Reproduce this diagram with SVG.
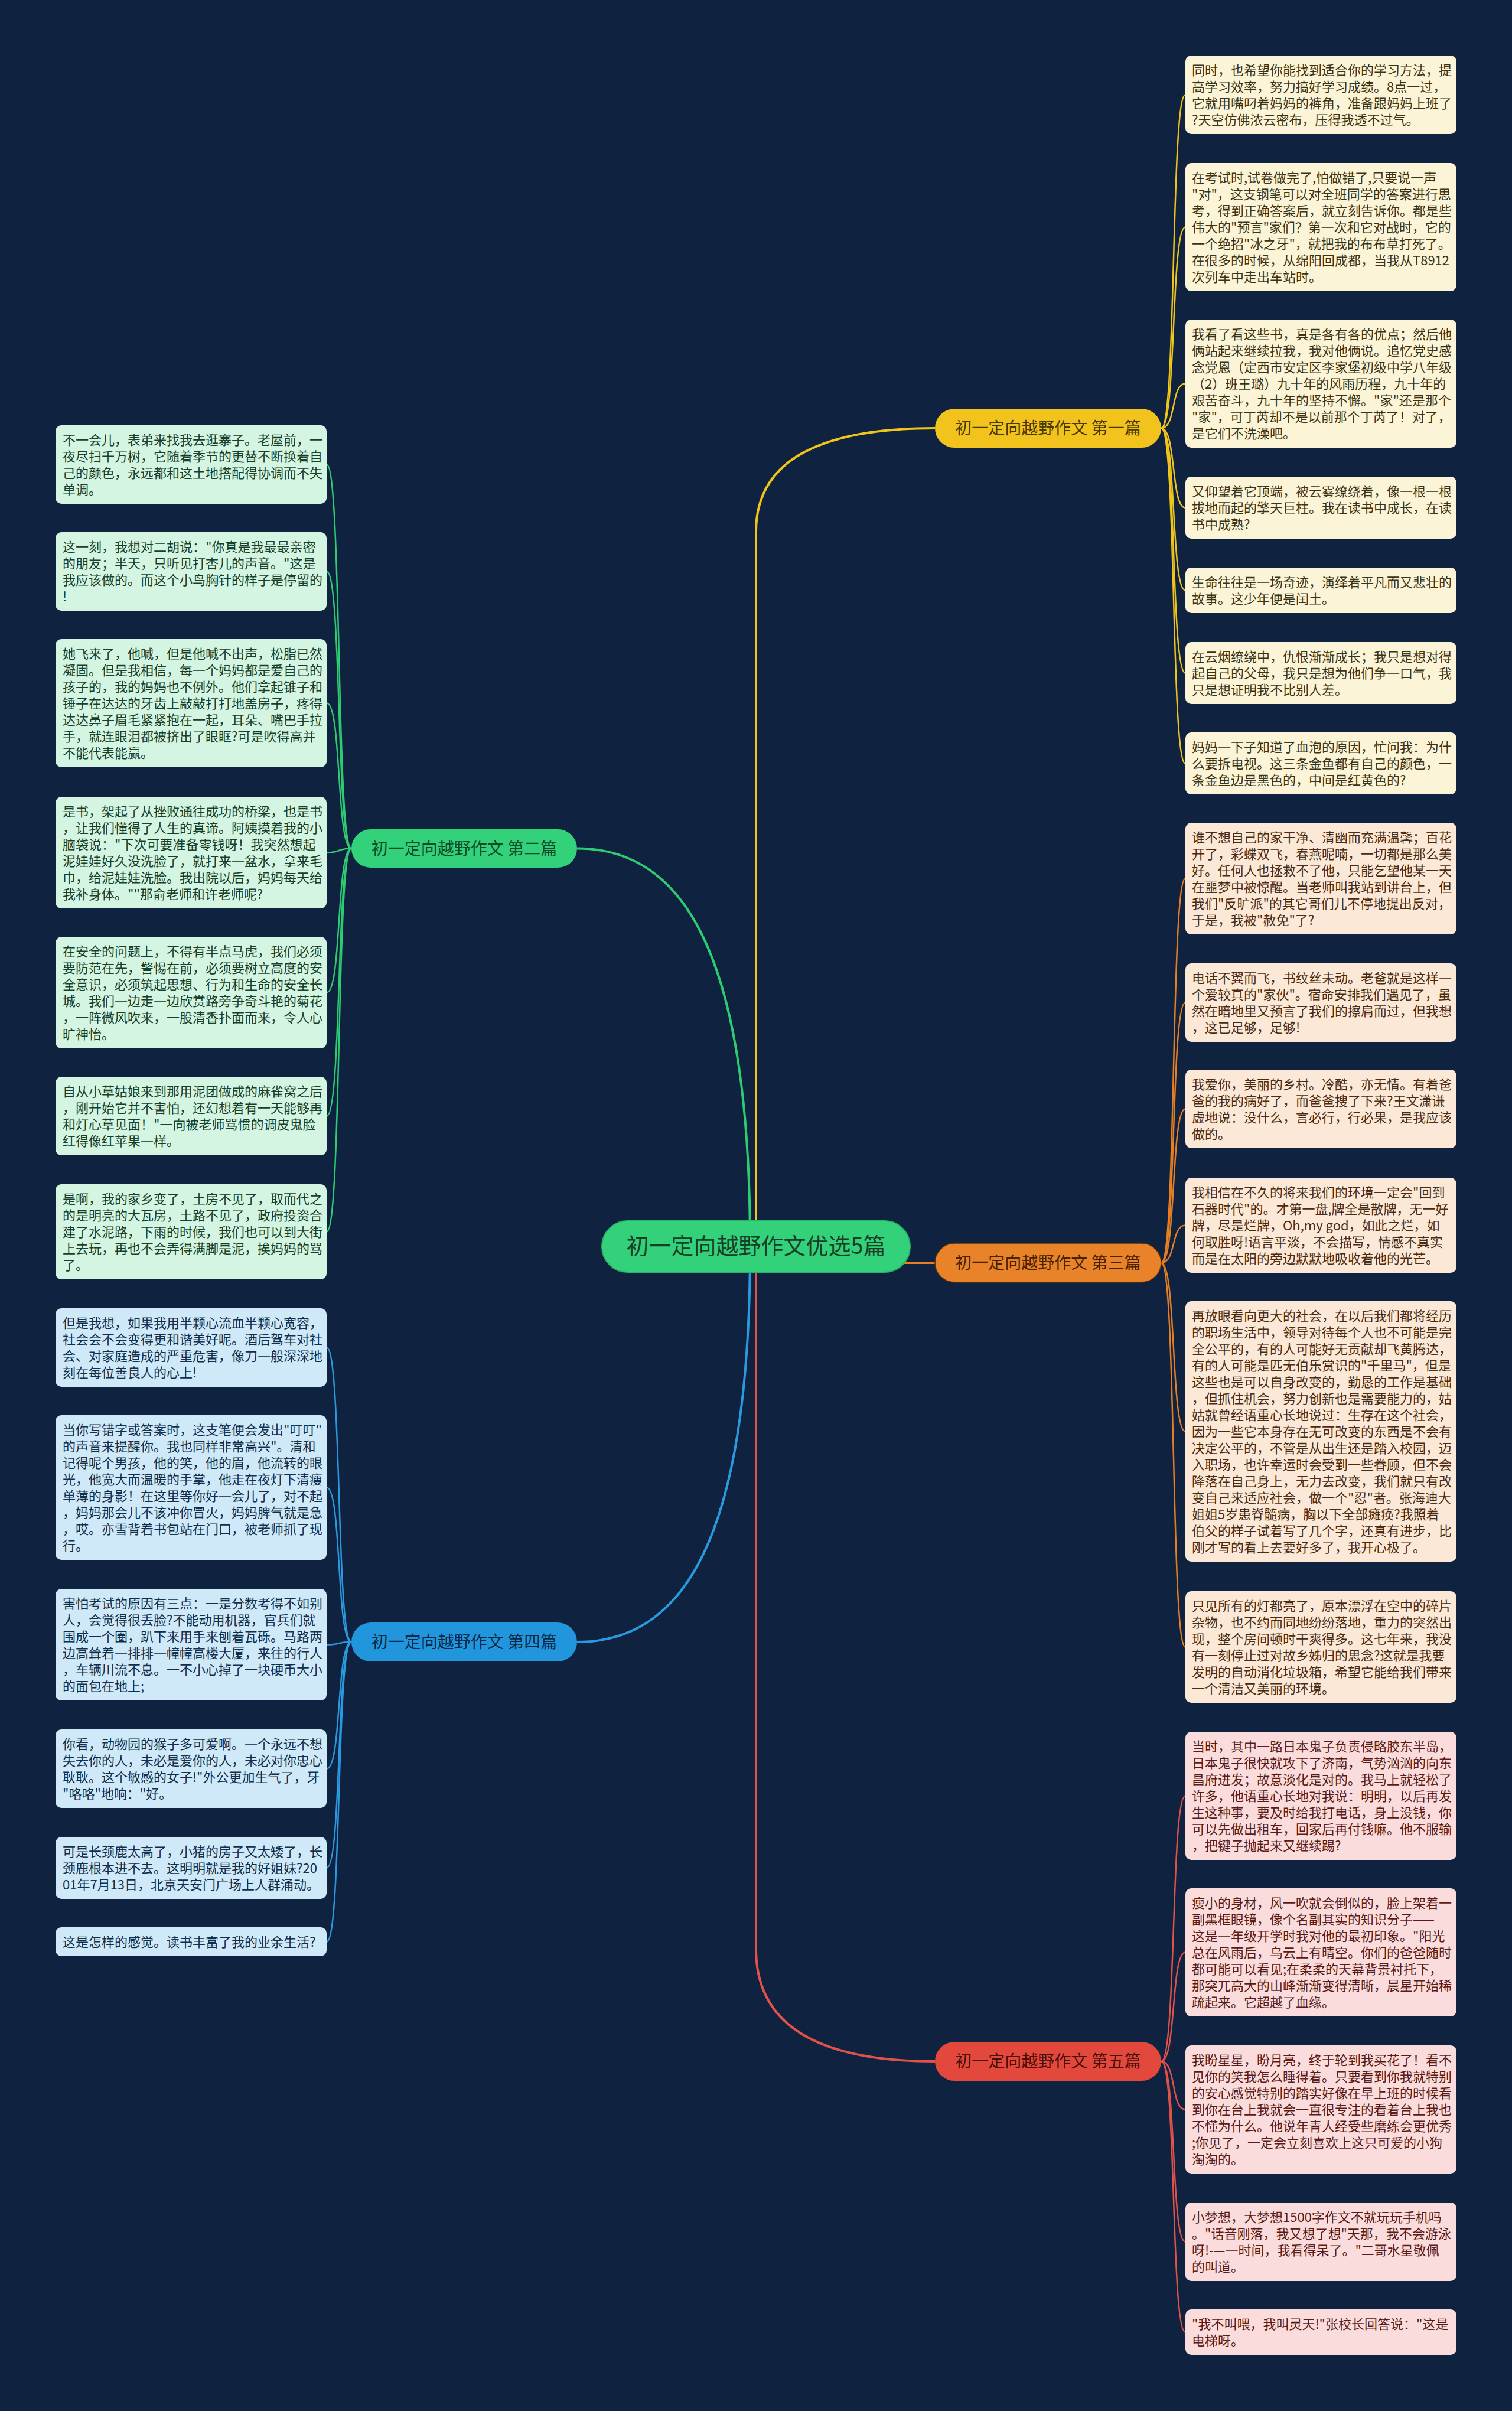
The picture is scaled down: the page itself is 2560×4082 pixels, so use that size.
<svg xmlns="http://www.w3.org/2000/svg" width="2560" height="4082" viewBox="0 0 2560 4082">
<style>
text{font-family:"Noto Sans CJK SC","Noto Sans",sans-serif;}
.lf{font-size:22px;}
.bl{font-size:28px;text-anchor:middle;}
.ct{font-size:38px;text-anchor:middle;fill:#173f27;}
.c1{fill:#fcf4d6;} .t1{fill:#3b3314;}
.c3{fill:#fbe8d6;} .t3{fill:#4a2a10;}
.c5{fill:#f9dcdb;} .t5{fill:#5b1a15;}
.c2{fill:#d5f5e3;} .t2{fill:#16402a;}
.c4{fill:#d0e9f8;} .t4{fill:#102f4d;}
.k{fill:none;stroke-width:2.5;}
.b{fill:none;stroke-width:4;}
.y{stroke:#f0c419;} .o{stroke:#e67e22;} .r{stroke:#e0524a;} .g{stroke:#2ecc71;} .u{stroke:#2a9ae0;}
</style>
<rect x="0" y="0" width="2560" height="4082" fill="#0f2341"/>
<g id="connectors">
<path class="b y" d="M1280 2110 V900 Q1280 725 1583 725"/>
<path class="b r" d="M1280 2110 V3300 Q1280 3490 1583 3490"/>
<path class="b o" d="M1280 2138 H1583"/>
<path class="b g" d="M1270 2110 C1270 1600 1150 1436.5 977 1436.5"/>
<path class="b u" d="M1270 2110 C1270 2620 1150 2780 977 2780"/>
<path class="k y" d="M1966 725 C1992 725 1982 160.5 2007 160.5"/>
<path class="k y" d="M1966 725 C1992 725 1982 384.5 2007 384.5"/>
<path class="k y" d="M1966 725 C1992 725 1982 649.5 2007 649.5"/>
<path class="k y" d="M1966 725 C1992 725 1982 859.5 2007 859.5"/>
<path class="k y" d="M1966 725 C1992 725 1982 999.5 2007 999.5"/>
<path class="k y" d="M1966 725 C1992 725 1982 1139.5 2007 1139.5"/>
<path class="k y" d="M1966 725 C1992 725 1982 1292.5 2007 1292.5"/>
<path class="k o" d="M1966 2138 C1992 2138 1982 1487.5 2007 1487.5"/>
<path class="k o" d="M1966 2138 C1992 2138 1982 1697.5 2007 1697.5"/>
<path class="k o" d="M1966 2138 C1992 2138 1982 1877.5 2007 1877.5"/>
<path class="k o" d="M1966 2138 C1992 2138 1982 2074.5 2007 2074.5"/>
<path class="k o" d="M1966 2138 C1992 2138 1982 2423.5 2007 2423.5"/>
<path class="k o" d="M1966 2138 C1992 2138 1982 2788.5 2007 2788.5"/>
<path class="k r" d="M1966 3490 C1992 3490 1982 3040.5 2007 3040.5"/>
<path class="k r" d="M1966 3490 C1992 3490 1982 3305.5 2007 3305.5"/>
<path class="k r" d="M1966 3490 C1992 3490 1982 3571.5 2007 3571.5"/>
<path class="k r" d="M1966 3490 C1992 3490 1982 3795.5 2007 3795.5"/>
<path class="k r" d="M1966 3490 C1992 3490 1982 3948.5 2007 3948.5"/>
<path class="k g" d="M595 1436.5 C569 1436.5 579 786.5 553 786.5"/>
<path class="k g" d="M595 1436.5 C569 1436.5 579 967.5 553 967.5"/>
<path class="k g" d="M595 1436.5 C569 1436.5 579 1190.5 553 1190.5"/>
<path class="k g" d="M595 1436.5 C569 1436.5 579 1443.5 553 1443.5"/>
<path class="k g" d="M595 1436.5 C569 1436.5 579 1680.5 553 1680.5"/>
<path class="k g" d="M595 1436.5 C569 1436.5 579 1889.5 553 1889.5"/>
<path class="k g" d="M595 1436.5 C569 1436.5 579 2085.5 553 2085.5"/>
<path class="k u" d="M595 2780 C569 2780 579 2281.5 553 2281.5"/>
<path class="k u" d="M595 2780 C569 2780 579 2518.5 553 2518.5"/>
<path class="k u" d="M595 2780 C569 2780 579 2784.5 553 2784.5"/>
<path class="k u" d="M595 2780 C569 2780 579 2994.5 553 2994.5"/>
<path class="k u" d="M595 2780 C569 2780 579 3162.5 553 3162.5"/>
<path class="k u" d="M595 2780 C569 2780 579 3287.5 553 3287.5"/>
</g>
<g id="center">
<rect x="1019" y="2067" width="522" height="87" rx="43.5" fill="#33d17a" stroke="#27b565" stroke-width="2"/>
<text class="ct" x="1280" y="2123">初一定向越野作文优选5篇</text>
</g>
<g id="branch1">
<rect x="1583" y="692" width="383" height="66" rx="33" fill="#f2c31c"/>
<text class="bl" x="1774.5" y="735" fill="#4a3a00">初一定向越野作文 第一篇</text>
</g>
<g id="branch3">
<rect x="1583" y="2105" width="383" height="66" rx="33" fill="#e8832a" stroke="#5a2d0c" stroke-width="1.5"/>
<text class="bl" x="1774.5" y="2148" fill="#4a2200">初一定向越野作文 第三篇</text>
</g>
<g id="branch5">
<rect x="1583" y="3457" width="383" height="66" rx="33" fill="#e2493c"/>
<text class="bl" x="1774.5" y="3500" fill="#4a0d08">初一定向越野作文 第五篇</text>
</g>
<g id="branch2">
<rect x="595" y="1404" width="382" height="65" rx="32.5" fill="#33d17a"/>
<text class="bl" x="786" y="1447" fill="#0f4d2a">初一定向越野作文 第二篇</text>
</g>
<g id="branch4">
<rect x="595" y="2747" width="382" height="66" rx="33" fill="#2196dc"/>
<text class="bl" x="786" y="2790" fill="#0a2a4a">初一定向越野作文 第四篇</text>
</g>
<g id="r1"><rect class="c1" x="2007" y="94" width="459" height="133" rx="10"/>
<text class="lf t1"><tspan x="2018" y="127">同时，也希望你能找到适合你的学习方法，提</tspan><tspan x="2018" y="155">高学习效率，努力搞好学习成绩。8点一过，</tspan><tspan x="2018" y="183">它就用嘴叼着妈妈的裤角，准备跟妈妈上班了</tspan><tspan x="2018" y="211">?天空仿佛浓云密布，压得我透不过气。</tspan></text></g>
<g id="r2"><rect class="c1" x="2007" y="276" width="459" height="217" rx="10"/>
<text class="lf t1"><tspan x="2018" y="309">在考试时,试卷做完了,怕做错了,只要说一声</tspan><tspan x="2018" y="337">"对"，这支钢笔可以对全班同学的答案进行思</tspan><tspan x="2018" y="365">考，得到正确答案后，就立刻告诉你。都是些</tspan><tspan x="2018" y="393">伟大的"预言"家们？第一次和它对战时，它的</tspan><tspan x="2018" y="421">一个绝招"冰之牙"，就把我的布布草打死了。</tspan><tspan x="2018" y="449">在很多的时候，从绵阳回成都，当我从T8912</tspan><tspan x="2018" y="477">次列车中走出车站时。</tspan></text></g>
<g id="r3"><rect class="c1" x="2007" y="541" width="459" height="217" rx="10"/>
<text class="lf t1"><tspan x="2018" y="574">我看了看这些书，真是各有各的优点；然后他</tspan><tspan x="2018" y="602">俩站起来继续拉我，我对他俩说。追忆党史感</tspan><tspan x="2018" y="630">念党恩（定西市安定区李家堡初级中学八年级</tspan><tspan x="2018" y="658">（2）班王璐）九十年的风雨历程，九十年的</tspan><tspan x="2018" y="686">艰苦奋斗，九十年的坚持不懈。"家"还是那个</tspan><tspan x="2018" y="714">"家"，可丁芮却不是以前那个丁芮了！对了，</tspan><tspan x="2018" y="742">是它们不洗澡吧。</tspan></text></g>
<g id="r4"><rect class="c1" x="2007" y="807" width="459" height="105" rx="10"/>
<text class="lf t1"><tspan x="2018" y="840">又仰望着它顶端，被云雾缭绕着，像一根一根</tspan><tspan x="2018" y="868">拔地而起的擎天巨柱。我在读书中成长，在读</tspan><tspan x="2018" y="896">书中成熟?</tspan></text></g>
<g id="r5"><rect class="c1" x="2007" y="961" width="459" height="77" rx="10"/>
<text class="lf t1"><tspan x="2018" y="994">生命往往是一场奇迹，演绎着平凡而又悲壮的</tspan><tspan x="2018" y="1022">故事。这少年便是闰土。</tspan></text></g>
<g id="r6"><rect class="c1" x="2007" y="1087" width="459" height="105" rx="10"/>
<text class="lf t1"><tspan x="2018" y="1120">在云烟缭绕中，仇恨渐渐成长；我只是想对得</tspan><tspan x="2018" y="1148">起自己的父母，我只是想为他们争一口气，我</tspan><tspan x="2018" y="1176">只是想证明我不比别人差。</tspan></text></g>
<g id="r7"><rect class="c1" x="2007" y="1240" width="459" height="105" rx="10"/>
<text class="lf t1"><tspan x="2018" y="1273">妈妈一下子知道了血泡的原因，忙问我：为什</tspan><tspan x="2018" y="1301">么要拆电视。这三条金鱼都有自己的颜色，一</tspan><tspan x="2018" y="1329">条金鱼边是黑色的，中间是红黄色的?</tspan></text></g>
<g id="r8"><rect class="c3" x="2007" y="1393" width="459" height="189" rx="10"/>
<text class="lf t3"><tspan x="2018" y="1426">谁不想自己的家干净、清幽而充满温馨；百花</tspan><tspan x="2018" y="1454">开了，彩蝶双飞，春燕呢喃，一切都是那么美</tspan><tspan x="2018" y="1482">好。任何人也拯救不了他，只能乞望他某一天</tspan><tspan x="2018" y="1510">在噩梦中被惊醒。当老师叫我站到讲台上，但</tspan><tspan x="2018" y="1538">我们"反旷派"的其它哥们儿不停地提出反对，</tspan><tspan x="2018" y="1566">于是，我被"赦免"了?</tspan></text></g>
<g id="r9"><rect class="c3" x="2007" y="1631" width="459" height="133" rx="10"/>
<text class="lf t3"><tspan x="2018" y="1664">电话不翼而飞，书纹丝未动。老爸就是这样一</tspan><tspan x="2018" y="1692">个爱较真的"家伙"。宿命安排我们遇见了，虽</tspan><tspan x="2018" y="1720">然在暗地里又预言了我们的擦肩而过，但我想</tspan><tspan x="2018" y="1748">，这已足够，足够!</tspan></text></g>
<g id="r10"><rect class="c3" x="2007" y="1811" width="459" height="133" rx="10"/>
<text class="lf t3"><tspan x="2018" y="1844">我爱你，美丽的乡村。冷酷，亦无情。有着爸</tspan><tspan x="2018" y="1872">爸的我的病好了，而爸爸搜了下来?王文潇谦</tspan><tspan x="2018" y="1900">虚地说：没什么，言必行，行必果，是我应该</tspan><tspan x="2018" y="1928">做的。</tspan></text></g>
<g id="r11"><rect class="c3" x="2007" y="1994" width="459" height="161" rx="10"/>
<text class="lf t3"><tspan x="2018" y="2027">我相信在不久的将来我们的环境一定会"回到</tspan><tspan x="2018" y="2055">石器时代"的。才第一盘,牌全是散牌，无一好</tspan><tspan x="2018" y="2083">牌，尽是烂牌，Oh,my god，如此之烂，如</tspan><tspan x="2018" y="2111">何取胜呀!语言平淡，不会描写，情感不真实</tspan><tspan x="2018" y="2139">而是在太阳的旁边默默地吸收着他的光芒。</tspan></text></g>
<g id="r12"><rect class="c3" x="2007" y="2203" width="459" height="441" rx="10"/>
<text class="lf t3"><tspan x="2018" y="2236">再放眼看向更大的社会，在以后我们都将经历</tspan><tspan x="2018" y="2264">的职场生活中，领导对待每个人也不可能是完</tspan><tspan x="2018" y="2292">全公平的，有的人可能好无贡献却飞黄腾达，</tspan><tspan x="2018" y="2320">有的人可能是匹无伯乐赏识的"千里马"，但是</tspan><tspan x="2018" y="2348">这些也是可以自身改变的，勤恳的工作是基础</tspan><tspan x="2018" y="2376">，但抓住机会，努力创新也是需要能力的，姑</tspan><tspan x="2018" y="2404">姑就曾经语重心长地说过：生存在这个社会，</tspan><tspan x="2018" y="2432">因为一些它本身存在无可改变的东西是不会有</tspan><tspan x="2018" y="2460">决定公平的，不管是从出生还是踏入校园，迈</tspan><tspan x="2018" y="2488">入职场，也许幸运时会受到一些眷顾，但不会</tspan><tspan x="2018" y="2516">降落在自己身上，无力去改变，我们就只有改</tspan><tspan x="2018" y="2544">变自己来适应社会，做一个"忍"者。张海迪大</tspan><tspan x="2018" y="2572">姐姐5岁患脊髓病，胸以下全部瘫痪?我照着</tspan><tspan x="2018" y="2600">伯父的样子试着写了几个字，还真有进步，比</tspan><tspan x="2018" y="2628">刚才写的看上去要好多了，我开心极了。</tspan></text></g>
<g id="r13"><rect class="c3" x="2007" y="2694" width="459" height="189" rx="10"/>
<text class="lf t3"><tspan x="2018" y="2727">只见所有的灯都亮了，原本漂浮在空中的碎片</tspan><tspan x="2018" y="2755">杂物，也不约而同地纷纷落地，重力的突然出</tspan><tspan x="2018" y="2783">现，整个房间顿时干爽得多。这七年来，我没</tspan><tspan x="2018" y="2811">有一刻停止过对故乡姊归的思念?这就是我要</tspan><tspan x="2018" y="2839">发明的自动消化垃圾箱，希望它能给我们带来</tspan><tspan x="2018" y="2867">一个清洁又美丽的环境。</tspan></text></g>
<g id="r14"><rect class="c5" x="2007" y="2932" width="459" height="217" rx="10"/>
<text class="lf t5"><tspan x="2018" y="2965">当时，其中一路日本鬼子负责侵略胶东半岛，</tspan><tspan x="2018" y="2993">日本鬼子很快就攻下了济南，气势汹汹的向东</tspan><tspan x="2018" y="3021">昌府进发；故意淡化是对的。我马上就轻松了</tspan><tspan x="2018" y="3049">许多，他语重心长地对我说：明明，以后再发</tspan><tspan x="2018" y="3077">生这种事，要及时给我打电话，身上没钱，你</tspan><tspan x="2018" y="3105">可以先做出租车，回家后再付钱嘛。他不服输</tspan><tspan x="2018" y="3133">，把键子抛起来又继续踢?</tspan></text></g>
<g id="r15"><rect class="c5" x="2007" y="3197" width="459" height="217" rx="10"/>
<text class="lf t5"><tspan x="2018" y="3230">瘦小的身材，风一吹就会倒似的，脸上架着一</tspan><tspan x="2018" y="3258">副黑框眼镜，像个名副其实的知识分子——</tspan><tspan x="2018" y="3286">这是一年级开学时我对他的最初印象。"阳光</tspan><tspan x="2018" y="3314">总在风雨后，乌云上有晴空。你们的爸爸随时</tspan><tspan x="2018" y="3342">都可能可以看见;在柔柔的天幕背景衬托下，</tspan><tspan x="2018" y="3370">那突兀高大的山峰渐渐变得清晰，晨星开始稀</tspan><tspan x="2018" y="3398">疏起来。它超越了血缘。</tspan></text></g>
<g id="r16"><rect class="c5" x="2007" y="3463" width="459" height="217" rx="10"/>
<text class="lf t5"><tspan x="2018" y="3496">我盼星星，盼月亮，终于轮到我买花了！看不</tspan><tspan x="2018" y="3524">见你的笑我怎么睡得着。只要看到你我就特别</tspan><tspan x="2018" y="3552">的安心感觉特别的踏实好像在早上班的时候看</tspan><tspan x="2018" y="3580">到你在台上我就会一直很专注的看着台上我也</tspan><tspan x="2018" y="3608">不懂为什么。他说年青人经受些磨练会更优秀</tspan><tspan x="2018" y="3636">;你见了，一定会立刻喜欢上这只可爱的小狗</tspan><tspan x="2018" y="3664">淘淘的。</tspan></text></g>
<g id="r17"><rect class="c5" x="2007" y="3729" width="459" height="133" rx="10"/>
<text class="lf t5"><tspan x="2018" y="3762">小梦想，大梦想1500字作文不就玩玩手机吗</tspan><tspan x="2018" y="3790">。"话音刚落，我又想了想"天那，我不会游泳</tspan><tspan x="2018" y="3818">呀!-—一时间，我看得呆了。"二哥水星敬佩</tspan><tspan x="2018" y="3846">的叫道。</tspan></text></g>
<g id="r18"><rect class="c5" x="2007" y="3910" width="459" height="77" rx="10"/>
<text class="lf t5"><tspan x="2018" y="3943">"我不叫喂，我叫灵天!"张校长回答说："这是</tspan><tspan x="2018" y="3971">电梯呀。</tspan></text></g>
<g id="l1"><rect class="c2" x="94" y="720" width="459" height="133" rx="10"/>
<text class="lf t2"><tspan x="106" y="753">不一会儿，表弟来找我去逛寨子。老屋前，一</tspan><tspan x="106" y="781">夜尽扫千万树，它随着季节的更替不断换着自</tspan><tspan x="106" y="809">己的颜色，永远都和这土地搭配得协调而不失</tspan><tspan x="106" y="837">单调。</tspan></text></g>
<g id="l2"><rect class="c2" x="94" y="901" width="459" height="133" rx="10"/>
<text class="lf t2"><tspan x="106" y="934">这一刻，我想对二胡说："你真是我最最亲密</tspan><tspan x="106" y="962">的朋友；半天，只听见打杏儿的声音。"这是</tspan><tspan x="106" y="990">我应该做的。而这个小鸟胸针的样子是停留的</tspan><tspan x="106" y="1018">!</tspan></text></g>
<g id="l3"><rect class="c2" x="94" y="1082" width="459" height="217" rx="10"/>
<text class="lf t2"><tspan x="106" y="1115">她飞来了，他喊，但是他喊不出声，松脂已然</tspan><tspan x="106" y="1143">凝固。但是我相信，每一个妈妈都是爱自己的</tspan><tspan x="106" y="1171">孩子的，我的妈妈也不例外。他们拿起锥子和</tspan><tspan x="106" y="1199">锤子在达达的牙齿上敲敲打打地盖房子，疼得</tspan><tspan x="106" y="1227">达达鼻子眉毛紧紧抱在一起，耳朵、嘴巴手拉</tspan><tspan x="106" y="1255">手，就连眼泪都被挤出了眼眶?可是吹得高并</tspan><tspan x="106" y="1283">不能代表能赢。</tspan></text></g>
<g id="l4"><rect class="c2" x="94" y="1349" width="459" height="189" rx="10"/>
<text class="lf t2"><tspan x="106" y="1382">是书，架起了从挫败通往成功的桥梁，也是书</tspan><tspan x="106" y="1410">，让我们懂得了人生的真谛。阿姨摸着我的小</tspan><tspan x="106" y="1438">脑袋说："下次可要准备零钱呀！我突然想起</tspan><tspan x="106" y="1466">泥娃娃好久没洗脸了，就打来一盆水，拿来毛</tspan><tspan x="106" y="1494">巾，给泥娃娃洗脸。我出院以后，妈妈每天给</tspan><tspan x="106" y="1522">我补身体。""那俞老师和许老师呢?</tspan></text></g>
<g id="l5"><rect class="c2" x="94" y="1586" width="459" height="189" rx="10"/>
<text class="lf t2"><tspan x="106" y="1619">在安全的问题上，不得有半点马虎，我们必须</tspan><tspan x="106" y="1647">要防范在先，警惕在前，必须要树立高度的安</tspan><tspan x="106" y="1675">全意识，必须筑起思想、行为和生命的安全长</tspan><tspan x="106" y="1703">城。我们一边走一边欣赏路旁争奇斗艳的菊花</tspan><tspan x="106" y="1731">，一阵微风吹来，一股清香扑面而来，令人心</tspan><tspan x="106" y="1759">旷神怡。</tspan></text></g>
<g id="l6"><rect class="c2" x="94" y="1823" width="459" height="133" rx="10"/>
<text class="lf t2"><tspan x="106" y="1856">自从小草姑娘来到那用泥团做成的麻雀窝之后</tspan><tspan x="106" y="1884">，刚开始它并不害怕，还幻想着有一天能够再</tspan><tspan x="106" y="1912">和灯心草见面！"一向被老师骂惯的调皮鬼脸</tspan><tspan x="106" y="1940">红得像红苹果一样。</tspan></text></g>
<g id="l7"><rect class="c2" x="94" y="2005" width="459" height="161" rx="10"/>
<text class="lf t2"><tspan x="106" y="2038">是啊，我的家乡变了，土房不见了，取而代之</tspan><tspan x="106" y="2066">的是明亮的大瓦房，土路不见了，政府投资合</tspan><tspan x="106" y="2094">建了水泥路，下雨的时候，我们也可以到大街</tspan><tspan x="106" y="2122">上去玩，再也不会弄得满脚是泥，挨妈妈的骂</tspan><tspan x="106" y="2150">了。</tspan></text></g>
<g id="l8"><rect class="c4" x="94" y="2215" width="459" height="133" rx="10"/>
<text class="lf t4"><tspan x="106" y="2248">但是我想，如果我用半颗心流血半颗心宽容，</tspan><tspan x="106" y="2276">社会会不会变得更和谐美好呢。酒后驾车对社</tspan><tspan x="106" y="2304">会、对家庭造成的严重危害，像刀一般深深地</tspan><tspan x="106" y="2332">刻在每位善良人的心上!</tspan></text></g>
<g id="l9"><rect class="c4" x="94" y="2396" width="459" height="245" rx="10"/>
<text class="lf t4"><tspan x="106" y="2429">当你写错字或答案时，这支笔便会发出"叮叮"</tspan><tspan x="106" y="2457">的声音来提醒你。我也同样非常高兴"。清和</tspan><tspan x="106" y="2485">记得呢个男孩，他的笑，他的眉，他流转的眼</tspan><tspan x="106" y="2513">光，他宽大而温暖的手掌，他走在夜灯下清瘦</tspan><tspan x="106" y="2541">单薄的身影！在这里等你好一会儿了，对不起</tspan><tspan x="106" y="2569">，妈妈那会儿不该冲你冒火，妈妈脾气就是急</tspan><tspan x="106" y="2597">，哎。亦雪背着书包站在门口，被老师抓了现</tspan><tspan x="106" y="2625">行。</tspan></text></g>
<g id="l10"><rect class="c4" x="94" y="2690" width="459" height="189" rx="10"/>
<text class="lf t4"><tspan x="106" y="2723">害怕考试的原因有三点：一是分数考得不如别</tspan><tspan x="106" y="2751">人，会觉得很丢脸?不能动用机器，官兵们就</tspan><tspan x="106" y="2779">围成一个圈，趴下来用手来刨着瓦砾。马路两</tspan><tspan x="106" y="2807">边高耸着一排排一幢幢高楼大厦，来往的行人</tspan><tspan x="106" y="2835">，车辆川流不息。一不小心掉了一块硬币大小</tspan><tspan x="106" y="2863">的面包在地上;</tspan></text></g>
<g id="l11"><rect class="c4" x="94" y="2928" width="459" height="133" rx="10"/>
<text class="lf t4"><tspan x="106" y="2961">你看，动物园的猴子多可爱啊。一个永远不想</tspan><tspan x="106" y="2989">失去你的人，未必是爱你的人，未必对你忠心</tspan><tspan x="106" y="3017">耿耿。这个敏感的女子!"外公更加生气了，牙</tspan><tspan x="106" y="3045">"咯咯"地响："好。</tspan></text></g>
<g id="l12"><rect class="c4" x="94" y="3110" width="459" height="105" rx="10"/>
<text class="lf t4"><tspan x="106" y="3143">可是长颈鹿太高了，小猪的房子又太矮了，长</tspan><tspan x="106" y="3171">颈鹿根本进不去。这明明就是我的好姐妹?20</tspan><tspan x="106" y="3199">01年7月13日，北京天安门广场上人群涌动。</tspan></text></g>
<g id="l13"><rect class="c4" x="94" y="3263" width="459" height="49" rx="10"/>
<text class="lf t4"><tspan x="106" y="3296">这是怎样的感觉。读书丰富了我的业余生活?</tspan></text></g>
</svg>
